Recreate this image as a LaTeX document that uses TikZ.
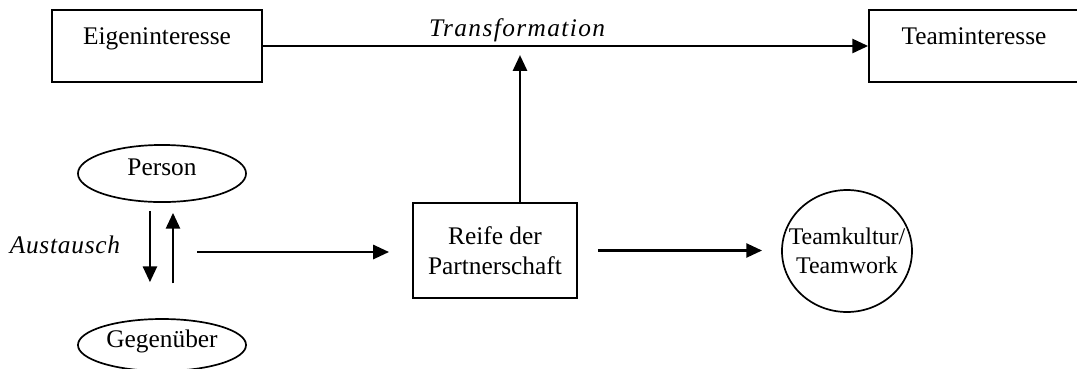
\documentclass[tikz,border=0pt]{standalone}
\usepackage{fontspec}
\setmainfont{Liberation Serif}
\usetikzlibrary{arrows.meta,shapes.geometric}
\begin{document}
\begin{tikzpicture}[x=0.473pt, y=-0.473pt,
  font=\fontsize{12}{14}\selectfont,
  box/.style={draw, line width=0.8pt, minimum width=99.3pt, minimum height=34pt, inner sep=0pt, text height=8pt, text depth=9.5pt},
  oval/.style={draw, ellipse, line width=0.8pt, inner sep=0pt, text height=8pt, text depth=6pt},
  flow/.style={line width=1.3pt, -{Triangle[length=7.5pt, width=6.6pt]}}]
\useasboundingbox (0,0) rectangle (1077,368);

\node[box] (Eigen) at (157, 46) {Eigeninteresse};
\node[box] (Team) at (974, 46) {Teaminteresse};
\node[oval, minimum width=79.5pt, minimum height=27pt] (Person) at (162, 173.5) {Person};
\node[oval, minimum width=79.5pt, minimum height=24.6pt] (Gegen) at (162, 345) {Gegenüber};
\node[draw, line width=0.8pt, minimum width=77.6pt, minimum height=45pt, align=center] (Reife) at (495, 250.5) {Reife der\\Partnerschaft};
\node[draw, ellipse, line width=0.8pt, minimum width=61.5pt, minimum height=57.7pt, inner xsep=-10pt, inner ysep=0pt, align=center, font=\fontsize{11.3}{14}\selectfont] (Kultur) at (847, 251) {Teamkultur/\\Teamwork};
\node[font=\fontsize{12}{14}\selectfont\itshape\addfontfeature{LetterSpace=3}] (Austausch) at (65, 245) {Austausch};

\coordinate (ex) at (197, 252);
\coordinate (tr) at (520, 55);

\draw[flow] (Eigen) -- node[above, pos=0.42, inner sep=1.5pt, font=\fontsize{12}{14}\selectfont\itshape\addfontfeature{LetterSpace=5.5}] {Transformation} (Team);
\draw[flow] (Reife.north -| tr) -- (tr);
\draw[flow, shorten <=3.8pt, shorten >=17pt] ([xshift=-5.7pt]Person.south) -- ([xshift=-5.7pt]Gegen.north);
\draw[flow, shorten <=16.5pt, shorten >=4.7pt] ([xshift=5.2pt]Gegen.north) -- ([xshift=5.2pt]Person.south);
\draw[flow, shorten >=10.9pt] (ex) -- (ex -| Reife.west);
\draw[flow, shorten <=9.5pt, shorten >=9pt] (Reife.east) -- (Reife.east -| Kultur.west);
\end{tikzpicture}
\end{document}
